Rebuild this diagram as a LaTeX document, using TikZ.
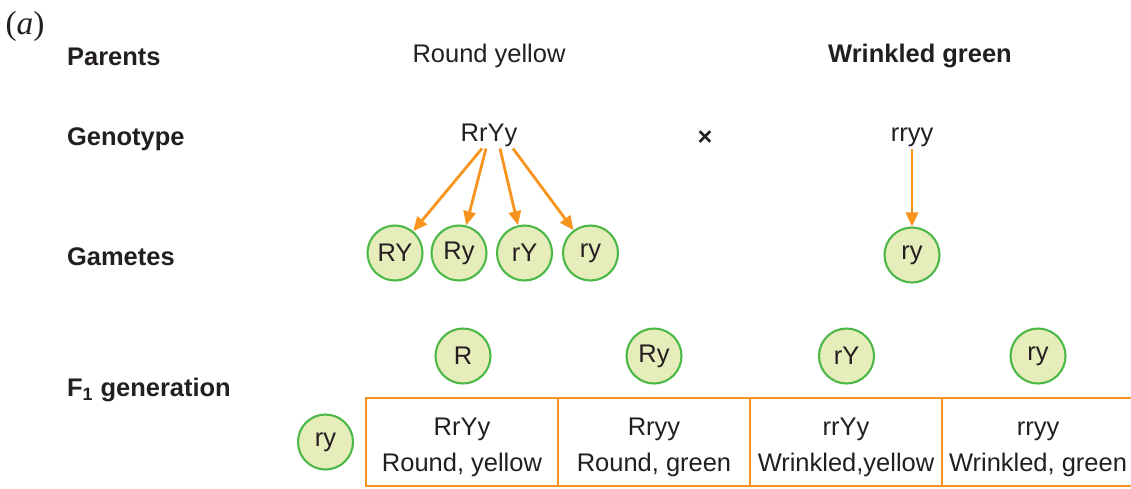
\documentclass[tikz,border=0pt]{standalone}
\usepackage{fontspec}
\setmainfont{Liberation Sans}
\newfontfamily\labelserif{Liberation Serif}
\usetikzlibrary{arrows.meta}

\definecolor{crossorange}{HTML}{F7941D}
\definecolor{gametefill}{HTML}{E6EDBB}
\definecolor{gameteline}{HTML}{4DB848}
\definecolor{darktext}{HTML}{231F20}

\begin{document}
\begin{tikzpicture}[x=0.02cm, y=-0.02cm,
  every node/.style={text=darktext, inner sep=1pt, font=\fontsize{14.5}{20.4}\selectfont},
  rowlabel/.style={anchor=west, font=\fontsize{14.5}{17}\selectfont\bfseries},
  gamete/.style={circle, draw=gameteline, fill=gametefill, line width=1.2pt, minimum size=1.1cm, inner sep=0pt},
  cell/.style={draw=crossorange, line width=1pt, minimum width=3.84cm, minimum height=1.76cm, align=center, inner sep=0pt},
  arr/.style={draw=crossorange, line width=1.6pt, -{Triangle[length=8pt, width=7pt]}}]

\useasboundingbox (0,0) rectangle (1131,488);

\node[font=\fontsize{19}{21}\selectfont\labelserif] (tag) at (25,26) {(\textit{a})};

% row labels
\node[rowlabel] (r1) at (65,57) {Parents};
\node[rowlabel] (r2) at (65,139) {Genotype};
\node[rowlabel] (r3) at (65,257) {Gametes};
\node[rowlabel] (r4) at (65,390) {F\textsubscript{1} generation};

% parents
\node (p1) at (489,56) {Round yellow};
\node[font=\fontsize{14.5}{17}\selectfont\bfseries] (p2) at (920,56) {Wrinkled green};
\node (gt1) at (489,135) {RrYy};
\node (x) at (705,138) {\textbf{×}};
\node (gt2) at (912,137) {rryy};

% gametes
\node[gamete] (g1) at (395,253) {RY};
\node[gamete] (g2) at (459,253) {Ry};
\node[gamete] (g3) at (524.5,253) {rY};
\node[gamete] (g4) at (590.5,253) {ry};
\node[gamete] (g5) at (912,255) {ry};
\draw[arr] ([xshift=-0.14cm]gt1.south) -- (g1);
\draw[arr] ([xshift=-0.06cm]gt1.south) -- (g2);
\draw[arr] ([xshift=0.22cm]gt1.south) -- (g3);
\draw[arr] ([xshift=0.48cm]gt1.south) -- (g4);
\draw[arr] (gt2) -- (g5);

% F1 square
\node[gamete] (t1) at (463,356) {R};
\node[gamete] (t2) at (654,356) {Ry};
\node[gamete] (t3) at (846.5,356) {rY};
\node[gamete] (t4) at (1038,356) {ry};
\node[gamete] (s1) at (325.5,442) {ry};

\node[cell] (c1) at (462,442) {\rule{0pt}{16pt}RrYy\\Round, yellow};
\node[cell] (c2) at (654,442) {\rule{0pt}{16pt}Rryy\\Round, green};
\node[cell] (c3) at (846,442) {\rule{0pt}{16pt}rrYy\\Wrinkled,yellow};
\node[cell] (c4) at (1038,442) {\rule{0pt}{16pt}rryy\\Wrinkled, green};
\end{tikzpicture}
\end{document}
